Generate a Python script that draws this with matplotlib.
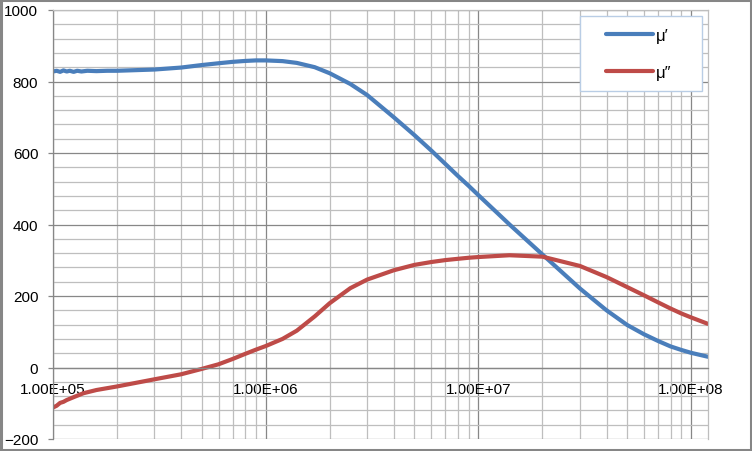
import matplotlib
matplotlib.use("Agg")
import matplotlib.pyplot as plt
from matplotlib.ticker import FuncFormatter, MultipleLocator, LogLocator, NullFormatter
from matplotlib.patches import Rectangle

# czestotliwosc [Hz] i przenikalnosc
freq_re = [1.00e5, 1.04e5, 1.08e5, 1.12e5, 1.16e5, 1.20e5, 1.25e5, 1.30e5, 1.36e5,
           1.45e5, 1.60e5, 1.80e5, 2.0e5, 3.0e5, 4.0e5, 5.0e5, 6.0e5, 7.0e5, 8.0e5,
           9.0e5, 1.0e6, 1.2e6, 1.4e6, 1.7e6, 2.0e6, 2.5e6, 3.0e6, 4.0e6, 5.0e6,
           6.0e6, 7.0e6, 8.0e6, 9.0e6, 1.0e7, 1.4e7, 2.0e7, 3.0e7, 4.0e7, 5.0e7,
           6.0e7, 7.0e7, 8.0e7, 9.0e7, 1.0e8, 1.2e8]
mu_re = [828, 830, 827, 831, 828, 830, 827, 830, 828,
         830, 829, 830, 830, 833.5, 839, 846, 851, 855, 857.5,
         859, 859, 857, 852, 840, 823, 793, 762, 700, 650,
         607, 569, 536, 508, 482, 400, 316, 221, 160, 119,
         93, 74, 59, 49, 41, 30]

freq_im = [1.00e5, 1.04e5, 1.08e5, 1.12e5, 1.16e5, 1.25e5, 1.39e5, 1.60e5, 2.0e5,
           3.0e5, 4.0e5, 5.0e5, 6.0e5, 7.0e5, 8.0e5, 9.0e5, 1.0e6, 1.2e6, 1.4e6,
           1.7e6, 2.0e6, 2.5e6, 3.0e6, 4.0e6, 5.0e6, 6.0e6, 7.0e6, 8.0e6, 9.0e6,
           1.0e7, 1.4e7, 2.0e7, 3.0e7, 4.0e7, 5.0e7, 6.0e7, 7.0e7, 8.0e7, 9.0e7,
           1.0e8, 1.2e8]
mu_im = [-112, -107, -99, -96, -91, -83, -72, -63, -53,
         -33, -19, -4, 9, 24, 38, 50, 60, 80, 103,
         143, 180, 222, 246, 272, 287, 295, 300.5, 304, 307,
         309, 314, 310, 284, 253, 225, 202, 182, 165, 151,
         140, 122]

labels = ["\u03bc\u2032", "\u03bc\u2033"]
plt.rcParams['font.family'] = ['Liberation Sans', 'DejaVu Sans']

W, H = 752, 452
fig = plt.figure(figsize=(W / 100, H / 100), dpi=100)
ax = fig.add_axes([53 / W, (H - 440) / H, (708 - 53) / W, (440 - 11) / H])

l1, = ax.plot(freq_re, mu_re, color='#4A7EBB', lw=3, solid_capstyle='round',
              solid_joinstyle='round')
l2, = ax.plot(freq_im, mu_im, color='#BE4B48', lw=3, solid_capstyle='round',
              solid_joinstyle='round')

ax.set_xscale('log')
ax.set_xlim(1e5, 1.2e8)
ax.set_ylim(-200, 1000)
ax.yaxis.set_major_locator(MultipleLocator(200))
ax.yaxis.set_minor_locator(MultipleLocator(40))
ax.xaxis.set_major_locator(LogLocator(base=10))
ax.xaxis.set_minor_locator(LogLocator(base=10, subs=range(2, 10)))
ax.xaxis.set_minor_formatter(NullFormatter())
ax.xaxis.set_major_formatter(FuncFormatter(lambda v, p: f"{v:.2E}"))

ax.grid(which='major', color='#878787', lw=0.9)
ax.grid(which='minor', color='#BEBEBE', lw=0.9)
ax.set_axisbelow(True)

for s in ['top', 'right']:
    ax.spines[s].set_color('#BEBEBE')
    ax.spines[s].set_linewidth(0.9)
ax.spines['left'].set_color('#878787')
ax.spines['left'].set_linewidth(0.9)
ax.spines['bottom'].set_position(('data', 0))
ax.spines['bottom'].set_color('#878787')
ax.spines['bottom'].set_linewidth(0.9)

ax.tick_params(axis='y', which='major', length=3.6, width=0.9, color='#878787',
               pad=7, labelsize=11)
ax.tick_params(axis='y', which='minor', length=0)
ax.tick_params(axis='x', which='both', length=0, pad=10.5, labelsize=11)

# ramka legendy
fig.patches.append(Rectangle((580 / W, 1 - 92 / H), 122 / W, 75 / H,
                             transform=fig.transFigure, facecolor='white',
                             edgecolor='#B9CDE5', lw=1, zorder=5))
leg = fig.legend([l1, l2], labels, loc='center', frameon=False,
                 bbox_to_anchor=(639 / W, 1 - 55 / H), fontsize=12,
                 handlelength=2.8, handletextpad=0.2, labelspacing=1.3)
leg.set_zorder(6)

# ramka wykresu
fig.patches.append(Rectangle((0.0015, 0.0025), 0.997, 0.995, transform=fig.transFigure,
                             facecolor='none', edgecolor='#868686', lw=2.2))

plt.savefig('out.png', dpi=100)
plt.close()
